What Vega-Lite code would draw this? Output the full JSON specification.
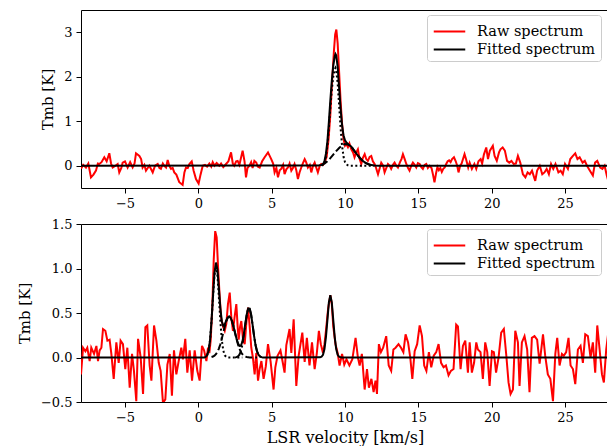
{
"$schema": "https://vega.github.io/schema/vega-lite/v6.json",
"autosize": {"type": "pad"},
"padding": {"left": 16, "top": 9, "right": 0, "bottom": 0},
"spacing": 6,
"datasets": {
"raw1": [
{"v":-8.0,"T":-0.07},{"v":-7.85,"T":0.02},{"v":-7.66,"T":-0.04},{"v":-7.5,"T":0.05},{"v":-7.32,"T":-0.26},{"v":-7.15,"T":-0.2},{"v":-6.98,"T":-0.11},{"v":-6.85,"T":0.05},{"v":-6.75,"T":0.04},{"v":-6.6,"T":0.08},{"v":-6.41,"T":0.19},{"v":-6.25,"T":0.1},{"v":-6.07,"T":0.28},{"v":-5.95,"T":0.05},{"v":-5.84,"T":-0.04},{"v":-5.65,"T":0.0},{"v":-5.5,"T":0.04},{"v":-5.39,"T":-0.15},{"v":-5.25,"T":-0.05},{"v":-5.16,"T":0.07},{"v":-5.0,"T":0.1},{"v":-4.82,"T":-0.04},{"v":-4.65,"T":0.08},{"v":-4.48,"T":-0.04},{"v":-4.35,"T":0.05},{"v":-4.25,"T":0.28},{"v":-4.02,"T":0.22},{"v":-3.9,"T":0.15},{"v":-3.8,"T":-0.04},{"v":-3.68,"T":0.02},{"v":-3.57,"T":-0.11},{"v":-3.45,"T":-0.05},{"v":-3.34,"T":0.0},{"v":-3.22,"T":-0.08},{"v":-3.11,"T":-0.15},{"v":-2.95,"T":0.0},{"v":-2.77,"T":0.04},{"v":-2.65,"T":-0.05},{"v":-2.55,"T":-0.07},{"v":-2.42,"T":0.05},{"v":-2.32,"T":0.0},{"v":-2.2,"T":-0.04},{"v":-2.09,"T":0.13},{"v":-1.98,"T":0.0},{"v":-1.86,"T":-0.07},{"v":-1.75,"T":-0.05},{"v":-1.64,"T":-0.15},{"v":-1.5,"T":-0.2},{"v":-1.3,"T":-0.37},{"v":-1.07,"T":-0.43},{"v":-0.95,"T":-0.15},{"v":-0.84,"T":-0.04},{"v":-0.72,"T":-0.05},{"v":-0.61,"T":0.04},{"v":-0.45,"T":0.1},{"v":-0.32,"T":-0.11},{"v":-0.16,"T":-0.3},{"v":0.02,"T":-0.4},{"v":0.15,"T":-0.2},{"v":0.3,"T":0.0},{"v":0.45,"T":0.02},{"v":0.6,"T":-0.02},{"v":0.75,"T":0.05},{"v":0.88,"T":-0.02},{"v":0.98,"T":0.08},{"v":1.1,"T":0.0},{"v":1.25,"T":0.06},{"v":1.43,"T":0.0},{"v":1.55,"T":0.05},{"v":1.7,"T":-0.03},{"v":1.89,"T":0.04},{"v":2.05,"T":0.1},{"v":2.23,"T":0.3},{"v":2.35,"T":0.05},{"v":2.45,"T":0.0},{"v":2.58,"T":0.1},{"v":2.68,"T":0.11},{"v":2.8,"T":0.02},{"v":3.02,"T":0.34},{"v":3.15,"T":0.1},{"v":3.25,"T":-0.26},{"v":3.35,"T":-0.05},{"v":3.48,"T":0.0},{"v":3.6,"T":0.08},{"v":3.7,"T":-0.05},{"v":3.82,"T":0.11},{"v":3.95,"T":0.07},{"v":4.05,"T":-0.02},{"v":4.18,"T":-0.04},{"v":4.35,"T":0.1},{"v":4.52,"T":0.19},{"v":4.75,"T":0.3},{"v":4.97,"T":0.15},{"v":5.1,"T":0.05},{"v":5.2,"T":-0.15},{"v":5.32,"T":-0.05},{"v":5.43,"T":-0.26},{"v":5.55,"T":-0.1},{"v":5.65,"T":-0.07},{"v":5.78,"T":0.02},{"v":5.88,"T":-0.19},{"v":6.0,"T":-0.08},{"v":6.11,"T":-0.04},{"v":6.22,"T":0.05},{"v":6.34,"T":-0.11},{"v":6.45,"T":-0.05},{"v":6.56,"T":0.04},{"v":6.68,"T":-0.1},{"v":6.79,"T":-0.3},{"v":6.9,"T":-0.15},{"v":7.02,"T":-0.04},{"v":7.12,"T":0.05},{"v":7.25,"T":0.15},{"v":7.35,"T":0.08},{"v":7.47,"T":-0.04},{"v":7.6,"T":0.02},{"v":7.7,"T":-0.15},{"v":7.82,"T":0.0},{"v":7.93,"T":0.07},{"v":8.05,"T":-0.05},{"v":8.15,"T":-0.15},{"v":8.28,"T":0.0},{"v":8.38,"T":0.04},{"v":8.5,"T":0.02},{"v":8.61,"T":0.07},{"v":8.75,"T":0.2},{"v":8.88,"T":0.6},{"v":9.0,"T":1.15},{"v":9.12,"T":1.9},{"v":9.25,"T":2.6},{"v":9.33,"T":2.95},{"v":9.41,"T":3.06},{"v":9.5,"T":2.75},{"v":9.6,"T":2.1},{"v":9.7,"T":1.45},{"v":9.8,"T":0.95},{"v":9.9,"T":0.6},{"v":10.0,"T":0.45},{"v":10.09,"T":0.49},{"v":10.2,"T":0.42},{"v":10.3,"T":0.5},{"v":10.43,"T":0.37},{"v":10.55,"T":0.3},{"v":10.65,"T":0.19},{"v":10.77,"T":0.3},{"v":10.88,"T":0.37},{"v":11.0,"T":0.15},{"v":11.11,"T":0.04},{"v":11.22,"T":0.18},{"v":11.34,"T":0.26},{"v":11.45,"T":0.15},{"v":11.56,"T":0.11},{"v":11.68,"T":0.2},{"v":11.79,"T":0.22},{"v":11.9,"T":0.1},{"v":12.02,"T":0.04},{"v":12.12,"T":-0.05},{"v":12.25,"T":-0.19},{"v":12.37,"T":-0.05},{"v":12.47,"T":0.07},{"v":12.6,"T":0.0},{"v":12.7,"T":-0.15},{"v":12.82,"T":-0.05},{"v":12.93,"T":0.04},{"v":13.05,"T":0.0},{"v":13.15,"T":-0.07},{"v":13.27,"T":0.02},{"v":13.38,"T":0.07},{"v":13.5,"T":0.0},{"v":13.61,"T":-0.04},{"v":13.75,"T":0.08},{"v":13.85,"T":0.15},{"v":13.95,"T":0.26},{"v":14.07,"T":0.15},{"v":14.18,"T":0.04},{"v":14.3,"T":-0.05},{"v":14.4,"T":-0.11},{"v":14.52,"T":0.0},{"v":14.63,"T":0.07},{"v":14.75,"T":0.02},{"v":14.86,"T":-0.04},{"v":14.97,"T":0.06},{"v":15.09,"T":0.04},{"v":15.2,"T":-0.03},{"v":15.31,"T":-0.07},{"v":15.43,"T":0.02},{"v":15.54,"T":0.04},{"v":15.65,"T":-0.05},{"v":15.77,"T":0.0},{"v":15.9,"T":-0.05},{"v":16.0,"T":-0.2},{"v":16.1,"T":-0.37},{"v":16.22,"T":-0.15},{"v":16.3,"T":-0.03},{"v":16.4,"T":-0.1},{"v":16.5,"T":-0.05},{"v":16.6,"T":-0.14},{"v":16.7,"T":-0.07},{"v":16.8,"T":-0.04},{"v":16.9,"T":0.04},{"v":17.0,"T":0.1},{"v":17.1,"T":0.12},{"v":17.2,"T":0.08},{"v":17.3,"T":0.15},{"v":17.43,"T":0.19},{"v":17.55,"T":0.1},{"v":17.65,"T":0.0},{"v":17.74,"T":-0.15},{"v":17.85,"T":0.0},{"v":17.95,"T":0.05},{"v":18.15,"T":0.26},{"v":18.25,"T":0.15},{"v":18.4,"T":-0.04},{"v":18.5,"T":0.07},{"v":18.65,"T":-0.07},{"v":18.82,"T":0.04},{"v":18.95,"T":-0.07},{"v":19.1,"T":0.1},{"v":19.25,"T":0.15},{"v":19.35,"T":0.05},{"v":19.47,"T":0.25},{"v":19.63,"T":0.41},{"v":19.75,"T":0.15},{"v":19.88,"T":0.34},{"v":20.08,"T":0.45},{"v":20.2,"T":0.22},{"v":20.35,"T":0.11},{"v":20.5,"T":0.3},{"v":20.6,"T":0.37},{"v":20.75,"T":0.41},{"v":20.9,"T":0.34},{"v":21.05,"T":0.11},{"v":21.2,"T":0.07},{"v":21.35,"T":0.11},{"v":21.5,"T":0.04},{"v":21.65,"T":0.05},{"v":21.79,"T":0.22},{"v":21.95,"T":0.07},{"v":22.13,"T":-0.19},{"v":22.3,"T":-0.26},{"v":22.45,"T":-0.15},{"v":22.6,"T":-0.19},{"v":22.75,"T":-0.11},{"v":22.97,"T":-0.34},{"v":23.1,"T":-0.11},{"v":23.28,"T":0.0},{"v":23.45,"T":-0.19},{"v":23.6,"T":-0.15},{"v":23.75,"T":-0.07},{"v":23.9,"T":-0.19},{"v":24.05,"T":0.04},{"v":24.2,"T":-0.07},{"v":24.35,"T":0.04},{"v":24.55,"T":-0.15},{"v":24.7,"T":-0.11},{"v":24.85,"T":-0.19},{"v":25.0,"T":0.04},{"v":25.2,"T":-0.07},{"v":25.36,"T":0.15},{"v":25.54,"T":0.22},{"v":25.7,"T":0.28},{"v":25.85,"T":0.15},{"v":26.0,"T":0.19},{"v":26.2,"T":0.07},{"v":26.35,"T":0.11},{"v":26.5,"T":0.0},{"v":26.7,"T":-0.11},{"v":26.9,"T":-0.22},{"v":27.05,"T":0.07},{"v":27.2,"T":0.11},{"v":27.4,"T":-0.04},{"v":27.55,"T":-0.07},{"v":27.7,"T":0.0},{"v":27.85,"T":-0.22},{"v":28.0,"T":-0.4}
],
"fit1": [
{"v":-8,"T":0},{"v":8.2,"T":0.005},{"v":8.4,"T":0.02},{"v":8.5,"T":0.03},{"v":8.6,"T":0.1},{"v":8.7,"T":0.27},{"v":8.8,"T":0.55},{"v":8.9,"T":0.98},{"v":9.0,"T":1.47},{"v":9.1,"T":1.91},{"v":9.2,"T":2.25},{"v":9.3,"T":2.46},{"v":9.35,"T":2.51},{"v":9.4,"T":2.48},{"v":9.5,"T":2.22},{"v":9.6,"T":1.75},{"v":9.7,"T":1.28},{"v":9.8,"T":0.91},{"v":9.9,"T":0.68},{"v":10.0,"T":0.57},{"v":10.1,"T":0.52},{"v":10.2,"T":0.49},{"v":10.3,"T":0.46},{"v":10.4,"T":0.44},{"v":10.5,"T":0.4},{"v":10.6,"T":0.35},{"v":10.7,"T":0.305},{"v":10.8,"T":0.26},{"v":10.9,"T":0.22},{"v":11.0,"T":0.18},{"v":11.2,"T":0.11},{"v":11.4,"T":0.065},{"v":11.6,"T":0.035},{"v":11.8,"T":0.015},{"v":12.0,"T":0.005},{"v":12.3,"T":0},{"v":28,"T":0}
],
"comp1": [
{"c":"n","v":8.4,"T":0.0},{"c":"n","v":8.6,"T":0.05},{"c":"n","v":8.7,"T":0.2},{"c":"n","v":8.8,"T":0.45},{"c":"n","v":8.9,"T":0.85},{"c":"n","v":9.0,"T":1.3},{"c":"n","v":9.1,"T":1.7},{"c":"n","v":9.2,"T":2.0},{"c":"n","v":9.3,"T":2.17},{"c":"n","v":9.35,"T":2.2},{"c":"n","v":9.4,"T":2.15},{"c":"n","v":9.5,"T":1.85},{"c":"n","v":9.6,"T":1.35},{"c":"n","v":9.7,"T":0.85},{"c":"n","v":9.8,"T":0.45},{"c":"n","v":9.9,"T":0.2},{"c":"n","v":10.0,"T":0.08},{"c":"n","v":10.1,"T":0.03},{"c":"n","v":10.2,"T":0.01},{"c":"n","v":10.3,"T":0},{"c":"n","v":12.0,"T":0},
{"c":"b","v":8.4,"T":0.02},{"c":"b","v":8.6,"T":0.05},{"c":"b","v":8.8,"T":0.1},{"c":"b","v":9.0,"T":0.17},{"c":"b","v":9.2,"T":0.25},{"c":"b","v":9.4,"T":0.33},{"c":"b","v":9.6,"T":0.4},{"c":"b","v":9.8,"T":0.46},{"c":"b","v":10.0,"T":0.49},{"c":"b","v":10.2,"T":0.48},{"c":"b","v":10.4,"T":0.44},{"c":"b","v":10.6,"T":0.35},{"c":"b","v":10.8,"T":0.26},{"c":"b","v":11.0,"T":0.18},{"c":"b","v":11.2,"T":0.11},{"c":"b","v":11.4,"T":0.065},{"c":"b","v":11.6,"T":0.035},{"c":"b","v":11.8,"T":0.015},{"c":"b","v":12.0,"T":0.005}
],
"raw2": [
{"v":-8.0,"T":-0.19},{"v":-7.86,"T":0.11},{"v":-7.7,"T":0.07},{"v":-7.57,"T":0.11},{"v":-7.41,"T":-0.04},{"v":-7.3,"T":0.11},{"v":-7.11,"T":0.04},{"v":-6.95,"T":0.13},{"v":-6.84,"T":-0.04},{"v":-6.73,"T":0.08},{"v":-6.61,"T":0.11},{"v":-6.5,"T":0.32},{"v":-6.34,"T":0.3},{"v":-6.2,"T":0.19},{"v":-6.05,"T":0.2},{"v":-5.93,"T":0.04},{"v":-5.77,"T":-0.24},{"v":-5.59,"T":0.17},{"v":-5.43,"T":-0.06},{"v":-5.3,"T":0.19},{"v":-5.14,"T":0.15},{"v":-4.98,"T":-0.13},{"v":-4.84,"T":0.11},{"v":-4.68,"T":-0.34},{"v":-4.52,"T":0.04},{"v":-4.39,"T":-0.15},{"v":-4.23,"T":-0.49},{"v":-4.11,"T":0.21},{"v":-3.93,"T":0.0},{"v":-3.77,"T":-0.41},{"v":-3.61,"T":0.34},{"v":-3.48,"T":0.36},{"v":-3.32,"T":-0.09},{"v":-3.2,"T":-0.26},{"v":-3.02,"T":0.36},{"v":-2.86,"T":0.19},{"v":-2.7,"T":-0.06},{"v":-2.57,"T":-0.15},{"v":-2.41,"T":-0.51},{"v":-2.25,"T":-0.47},{"v":-2.11,"T":-0.08},{"v":-1.95,"T":0.04},{"v":-1.8,"T":-0.43},{"v":-1.66,"T":0.08},{"v":-1.5,"T":-0.19},{"v":-1.34,"T":-0.04},{"v":-1.16,"T":0.11},{"v":-1.05,"T":-0.02},{"v":-0.89,"T":0.21},{"v":-0.75,"T":-0.17},{"v":-0.59,"T":0.08},{"v":-0.43,"T":-0.26},{"v":-0.25,"T":0.08},{"v":-0.07,"T":-0.15},{"v":0.09,"T":-0.26},{"v":0.25,"T":0.13},{"v":0.39,"T":0.08},{"v":0.55,"T":-0.04},{"v":0.66,"T":0.11},{"v":0.75,"T":0.05},{"v":0.84,"T":0.19},{"v":0.95,"T":0.55},{"v":1.05,"T":1.1},{"v":1.15,"T":1.42},{"v":1.25,"T":1.35},{"v":1.35,"T":1.0},{"v":1.45,"T":0.7},{"v":1.55,"T":0.45},{"v":1.68,"T":0.35},{"v":1.8,"T":0.3},{"v":1.91,"T":0.38},{"v":2.02,"T":0.6},{"v":2.14,"T":0.73},{"v":2.25,"T":0.45},{"v":2.36,"T":0.3},{"v":2.47,"T":0.45},{"v":2.59,"T":0.6},{"v":2.68,"T":0.35},{"v":2.75,"T":0.2},{"v":2.85,"T":0.35},{"v":2.93,"T":0.41},{"v":3.05,"T":0.2},{"v":3.16,"T":0.15},{"v":3.28,"T":0.4},{"v":3.39,"T":0.56},{"v":3.5,"T":0.35},{"v":3.61,"T":0.11},{"v":3.72,"T":0.0},{"v":3.84,"T":-0.19},{"v":3.95,"T":0.05},{"v":4.07,"T":-0.26},{"v":4.18,"T":-0.13},{"v":4.3,"T":-0.04},{"v":4.45,"T":-0.24},{"v":4.6,"T":-0.1},{"v":4.75,"T":0.15},{"v":4.93,"T":-0.05},{"v":5.13,"T":-0.36},{"v":5.25,"T":-0.11},{"v":5.4,"T":0.02},{"v":5.6,"T":0.08},{"v":5.75,"T":-0.05},{"v":5.88,"T":-0.17},{"v":6.0,"T":0.14},{"v":6.22,"T":0.32},{"v":6.34,"T":0.05},{"v":6.5,"T":0.43},{"v":6.68,"T":-0.32},{"v":6.84,"T":0.02},{"v":7.09,"T":0.28},{"v":7.25,"T":-0.05},{"v":7.4,"T":0.22},{"v":7.58,"T":-0.09},{"v":7.75,"T":0.17},{"v":7.93,"T":-0.13},{"v":8.08,"T":0.05},{"v":8.22,"T":0.3},{"v":8.35,"T":0.15},{"v":8.5,"T":0.05},{"v":8.6,"T":0.15},{"v":8.7,"T":0.3},{"v":8.85,"T":0.55},{"v":9.0,"T":0.7},{"v":9.1,"T":0.6},{"v":9.2,"T":0.35},{"v":9.35,"T":0.15},{"v":9.5,"T":0.05},{"v":9.63,"T":-0.09},{"v":9.8,"T":0.04},{"v":9.95,"T":-0.08},{"v":10.1,"T":-0.02},{"v":10.3,"T":-0.09},{"v":10.5,"T":-0.02},{"v":10.72,"T":0.22},{"v":10.88,"T":0.0},{"v":11.0,"T":-0.09},{"v":11.15,"T":0.04},{"v":11.34,"T":-0.36},{"v":11.5,"T":-0.13},{"v":11.63,"T":-0.34},{"v":11.8,"T":-0.24},{"v":11.95,"T":-0.39},{"v":12.08,"T":-0.26},{"v":12.18,"T":-0.41},{"v":12.31,"T":0.15},{"v":12.45,"T":0.06},{"v":12.6,"T":0.11},{"v":12.81,"T":0.24},{"v":12.98,"T":-0.09},{"v":13.15,"T":-0.15},{"v":13.3,"T":0.09},{"v":13.45,"T":0.11},{"v":13.65,"T":0.15},{"v":13.82,"T":0.11},{"v":13.98,"T":0.06},{"v":14.13,"T":0.26},{"v":14.3,"T":0.17},{"v":14.45,"T":0.0},{"v":14.59,"T":-0.24},{"v":14.75,"T":0.07},{"v":14.92,"T":0.15},{"v":15.09,"T":0.36},{"v":15.25,"T":0.24},{"v":15.4,"T":-0.09},{"v":15.55,"T":-0.15},{"v":15.72,"T":0.06},{"v":15.88,"T":-0.11},{"v":16.05,"T":0.02},{"v":16.22,"T":0.06},{"v":16.38,"T":0.15},{"v":16.55,"T":-0.06},{"v":16.72,"T":-0.11},{"v":16.88,"T":-0.09},{"v":17.06,"T":-0.2},{"v":17.22,"T":-0.15},{"v":17.4,"T":-0.13},{"v":17.58,"T":0.37},{"v":17.7,"T":0.35},{"v":17.88,"T":-0.13},{"v":18.04,"T":0.13},{"v":18.2,"T":0.19},{"v":18.38,"T":-0.17},{"v":18.5,"T":0.17},{"v":18.65,"T":-0.17},{"v":18.8,"T":-0.06},{"v":18.95,"T":0.17},{"v":19.06,"T":0.09},{"v":19.24,"T":0.06},{"v":19.4,"T":-0.24},{"v":19.56,"T":0.17},{"v":19.7,"T":0.06},{"v":19.86,"T":-0.32},{"v":20.02,"T":0.07},{"v":20.15,"T":0.06},{"v":20.3,"T":-0.17},{"v":20.47,"T":0.0},{"v":20.65,"T":0.28},{"v":20.83,"T":0.32},{"v":21.0,"T":0.02},{"v":21.15,"T":-0.28},{"v":21.29,"T":-0.41},{"v":21.45,"T":-0.36},{"v":21.61,"T":0.3},{"v":21.79,"T":0.17},{"v":21.9,"T":-0.32},{"v":22.06,"T":0.17},{"v":22.24,"T":0.24},{"v":22.42,"T":0.09},{"v":22.58,"T":-0.39},{"v":22.74,"T":0.22},{"v":22.92,"T":0.24},{"v":23.1,"T":0.2},{"v":23.27,"T":-0.07},{"v":23.5,"T":0.26},{"v":23.65,"T":0.02},{"v":23.83,"T":-0.19},{"v":24.0,"T":-0.24},{"v":24.18,"T":-0.49},{"v":24.34,"T":0.04},{"v":24.47,"T":0.22},{"v":24.63,"T":-0.09},{"v":24.79,"T":0.04},{"v":24.92,"T":0.02},{"v":25.08,"T":0.06},{"v":25.24,"T":0.22},{"v":25.38,"T":-0.09},{"v":25.54,"T":-0.13},{"v":25.7,"T":-0.3},{"v":25.88,"T":0.09},{"v":26.06,"T":0.13},{"v":26.22,"T":-0.06},{"v":26.38,"T":0.26},{"v":26.56,"T":0.24},{"v":26.74,"T":0.0},{"v":26.9,"T":0.17},{"v":27.06,"T":-0.17},{"v":27.2,"T":0.36},{"v":27.36,"T":0.09},{"v":27.52,"T":-0.19},{"v":27.65,"T":-0.28},{"v":27.81,"T":0.09},{"v":27.95,"T":0.28}
],
"fit2": [
{"v":-8,"T":0},{"v":0.4,"T":0.001},{"v":0.5,"T":0.007},{"v":0.6,"T":0.025},{"v":0.7,"T":0.079},{"v":0.8,"T":0.199},{"v":0.9,"T":0.415},{"v":1.0,"T":0.69},{"v":1.1,"T":0.949},{"v":1.2,"T":1.067},{"v":1.3,"T":0.991},{"v":1.4,"T":0.78},{"v":1.5,"T":0.559},{"v":1.6,"T":0.408},{"v":1.7,"T":0.357},{"v":1.8,"T":0.372},{"v":1.9,"T":0.413},{"v":2.0,"T":0.447},{"v":2.1,"T":0.46},{"v":2.2,"T":0.446},{"v":2.3,"T":0.406},{"v":2.4,"T":0.348},{"v":2.5,"T":0.28},{"v":2.6,"T":0.215},{"v":2.7,"T":0.161},{"v":2.8,"T":0.131},{"v":2.9,"T":0.132},{"v":3.0,"T":0.176},{"v":3.1,"T":0.263},{"v":3.2,"T":0.377},{"v":3.3,"T":0.485},{"v":3.4,"T":0.552},{"v":3.5,"T":0.55},{"v":3.6,"T":0.48},{"v":3.7,"T":0.366},{"v":3.8,"T":0.243},{"v":3.9,"T":0.139},{"v":4.0,"T":0.07},{"v":4.1,"T":0.031},{"v":4.2,"T":0.012},{"v":4.3,"T":0.004},{"v":4.4,"T":0.001},{"v":4.5,"T":0},{"v":8.3,"T":0.002},{"v":8.4,"T":0.008},{"v":8.5,"T":0.031},{"v":8.6,"T":0.095},{"v":8.7,"T":0.23},{"v":8.8,"T":0.42},{"v":8.9,"T":0.62},{"v":9.0,"T":0.7},{"v":9.1,"T":0.62},{"v":9.2,"T":0.42},{"v":9.3,"T":0.23},{"v":9.4,"T":0.095},{"v":9.5,"T":0.031},{"v":9.6,"T":0.008},{"v":9.7,"T":0.002},{"v":9.8,"T":0},{"v":28,"T":0}
],
"comp2": [
{"c":"n","v":0.6,"T":0.025},{"c":"n","v":0.7,"T":0.078},{"c":"n","v":0.8,"T":0.197},{"c":"n","v":0.9,"T":0.41},{"c":"n","v":1.0,"T":0.68},{"c":"n","v":1.1,"T":0.929},{"c":"n","v":1.2,"T":1.03},{"c":"n","v":1.3,"T":0.929},{"c":"n","v":1.4,"T":0.68},{"c":"n","v":1.5,"T":0.41},{"c":"n","v":1.6,"T":0.197},{"c":"n","v":1.7,"T":0.078},{"c":"n","v":1.8,"T":0.025},{"c":"n","v":1.9,"T":0.0065},{"c":"n","v":2.0,"T":0.001},{"c":"n","v":3.0,"T":0},
{"c":"b","v":0.9,"T":0.005},{"c":"b","v":1.0,"T":0.0105},{"c":"b","v":1.1,"T":0.02},{"c":"b","v":1.2,"T":0.037},{"c":"b","v":1.3,"T":0.062},{"c":"b","v":1.4,"T":0.1},{"c":"b","v":1.5,"T":0.149},{"c":"b","v":1.6,"T":0.211},{"c":"b","v":1.7,"T":0.279},{"c":"b","v":1.8,"T":0.347},{"c":"b","v":1.9,"T":0.406},{"c":"b","v":2.0,"T":0.446},{"c":"b","v":2.1,"T":0.46},{"c":"b","v":2.2,"T":0.446},{"c":"b","v":2.3,"T":0.406},{"c":"b","v":2.4,"T":0.347},{"c":"b","v":2.5,"T":0.279},{"c":"b","v":2.6,"T":0.211},{"c":"b","v":2.7,"T":0.149},{"c":"b","v":2.8,"T":0.1},{"c":"b","v":2.9,"T":0.062},{"c":"b","v":3.0,"T":0.037},{"c":"b","v":3.1,"T":0.02},{"c":"b","v":3.2,"T":0.0105},{"c":"b","v":3.3,"T":0.005},{"c":"b","v":3.5,"T":0.001},{"c":"b","v":4.0,"T":0},
{"c":"d","v":2.5,"T":0.001},{"c":"d","v":2.6,"T":0.004},{"c":"d","v":2.7,"T":0.012},{"c":"d","v":2.8,"T":0.031},{"c":"d","v":2.9,"T":0.07},{"c":"d","v":3.0,"T":0.14},{"c":"d","v":3.1,"T":0.242},{"c":"d","v":3.2,"T":0.365},{"c":"d","v":3.3,"T":0.48},{"c":"d","v":3.4,"T":0.55},{"c":"d","v":3.5,"T":0.55},{"c":"d","v":3.6,"T":0.48},{"c":"d","v":3.7,"T":0.365},{"c":"d","v":3.8,"T":0.242},{"c":"d","v":3.9,"T":0.14},{"c":"d","v":4.0,"T":0.07},{"c":"d","v":4.1,"T":0.031},{"c":"d","v":4.2,"T":0.012},{"c":"d","v":4.3,"T":0.004},{"c":"d","v":4.4,"T":0.001}
]
},
"vconcat": [
{
"width": 528, "height": 178,
"layer": [
{"data": {"name": "raw1"}, "mark": {"type": "line", "strokeWidth": 2, "clip": true},
 "encoding": {
  "x": {"field": "v", "type": "quantitative", "scale": {"domain": [-8, 28], "nice": false, "zero": false}, "axis": {"values": [-5, 0, 5, 10, 15, 20, 25], "title": null}},
  "y": {"field": "T", "type": "quantitative", "scale": {"domain": [-0.5, 3.5], "nice": false, "zero": false}, "axis": {"values": [0, 1, 2, 3], "format": "d", "title": "Tmb [K]"}},
  "color": {"datum": "Raw spectrum", "type": "nominal", "scale": {"domain": ["Raw spectrum", "Fitted spectrum"], "range": ["#ff0000", "#000000"]},
   "legend": {"orient": "none", "legendX": 346, "legendY": 5, "title": null}}
 }},
{"data": {"name": "fit1"}, "mark": {"type": "line", "strokeWidth": 2, "clip": true},
 "encoding": {"x": {"field": "v", "type": "quantitative"}, "y": {"field": "T", "type": "quantitative"}, "color": {"datum": "Fitted spectrum", "type": "nominal"}}},
{"data": {"name": "comp1"}, "mark": {"type": "line", "strokeWidth": 2, "color": "black", "clip": true},
 "encoding": {"x": {"field": "v", "type": "quantitative"}, "y": {"field": "T", "type": "quantitative"},
  "strokeDash": {"field": "c", "type": "nominal", "scale": {"domain": ["n", "b", "d"], "range": [[2, 2.5], [7, 3], [10, 3, 2, 3]]}, "legend": null}}}
]
},
{
"width": 528, "height": 178,
"layer": [
{"data": {"name": "raw2"}, "mark": {"type": "line", "strokeWidth": 2, "clip": true},
 "encoding": {
  "x": {"field": "v", "type": "quantitative", "scale": {"domain": [-8, 28], "nice": false, "zero": false}, "axis": {"values": [-5, 0, 5, 10, 15, 20, 25], "title": "LSR velocity [km/s]", "titleFontSize": 16, "titlePadding": 5}},
  "y": {"field": "T", "type": "quantitative", "scale": {"domain": [-0.5, 1.5], "nice": false, "zero": false}, "axis": {"values": [-0.5, 0, 0.5, 1, 1.5], "format": ".1f", "title": "Tmb [K]"}},
  "color": {"datum": "Raw spectrum", "type": "nominal", "scale": {"domain": ["Raw spectrum", "Fitted spectrum"], "range": ["#ff0000", "#000000"]},
   "legend": {"orient": "none", "legendX": 346, "legendY": 5, "title": null}}
 }},
{"data": {"name": "fit2"}, "mark": {"type": "line", "strokeWidth": 2, "clip": true},
 "encoding": {"x": {"field": "v", "type": "quantitative"}, "y": {"field": "T", "type": "quantitative"}, "color": {"datum": "Fitted spectrum", "type": "nominal"}}},
{"data": {"name": "comp2"}, "mark": {"type": "line", "strokeWidth": 2, "color": "black", "clip": true},
 "encoding": {"x": {"field": "v", "type": "quantitative"}, "y": {"field": "T", "type": "quantitative"},
  "strokeDash": {"field": "c", "type": "nominal", "scale": {"domain": ["n", "b", "d"], "range": [[2, 2.5], [7, 3], [10, 3, 2, 3]]}, "legend": null}}}
]
}
],
"resolve": {"scale": {"color": "independent", "strokeDash": "independent"}, "legend": {"color": "independent"}},
"config": {
 "font": "DejaVu Serif",
 "view": {"stroke": "black", "strokeWidth": 1},
 "axis": {"grid": false, "domain": false, "tickColor": "black", "tickSize": 5, "tickWidth": 1, "labelColor": "black", "labelFontSize": 13, "labelPadding": 4, "labelFlush": false, "labelFont": "DejaVu Serif", "titleFont": "DejaVu Serif", "titleColor": "black", "titleFontSize": 15, "titleFontWeight": "normal", "titlePadding": 8},
 "legend": {"symbolType": "M-1.5,0H1.5", "symbolSize": 441, "symbolStrokeWidth": 2, "symbolOffset": 6, "labelFont": "DejaVu Serif", "labelFontSize": 14.5, "labelColor": "black", "labelOffset": 16, "padding": 5, "rowPadding": 0, "strokeColor": "#cccccc", "fillColor": "rgba(255,255,255,0.85)", "cornerRadius": 3}
}
}
